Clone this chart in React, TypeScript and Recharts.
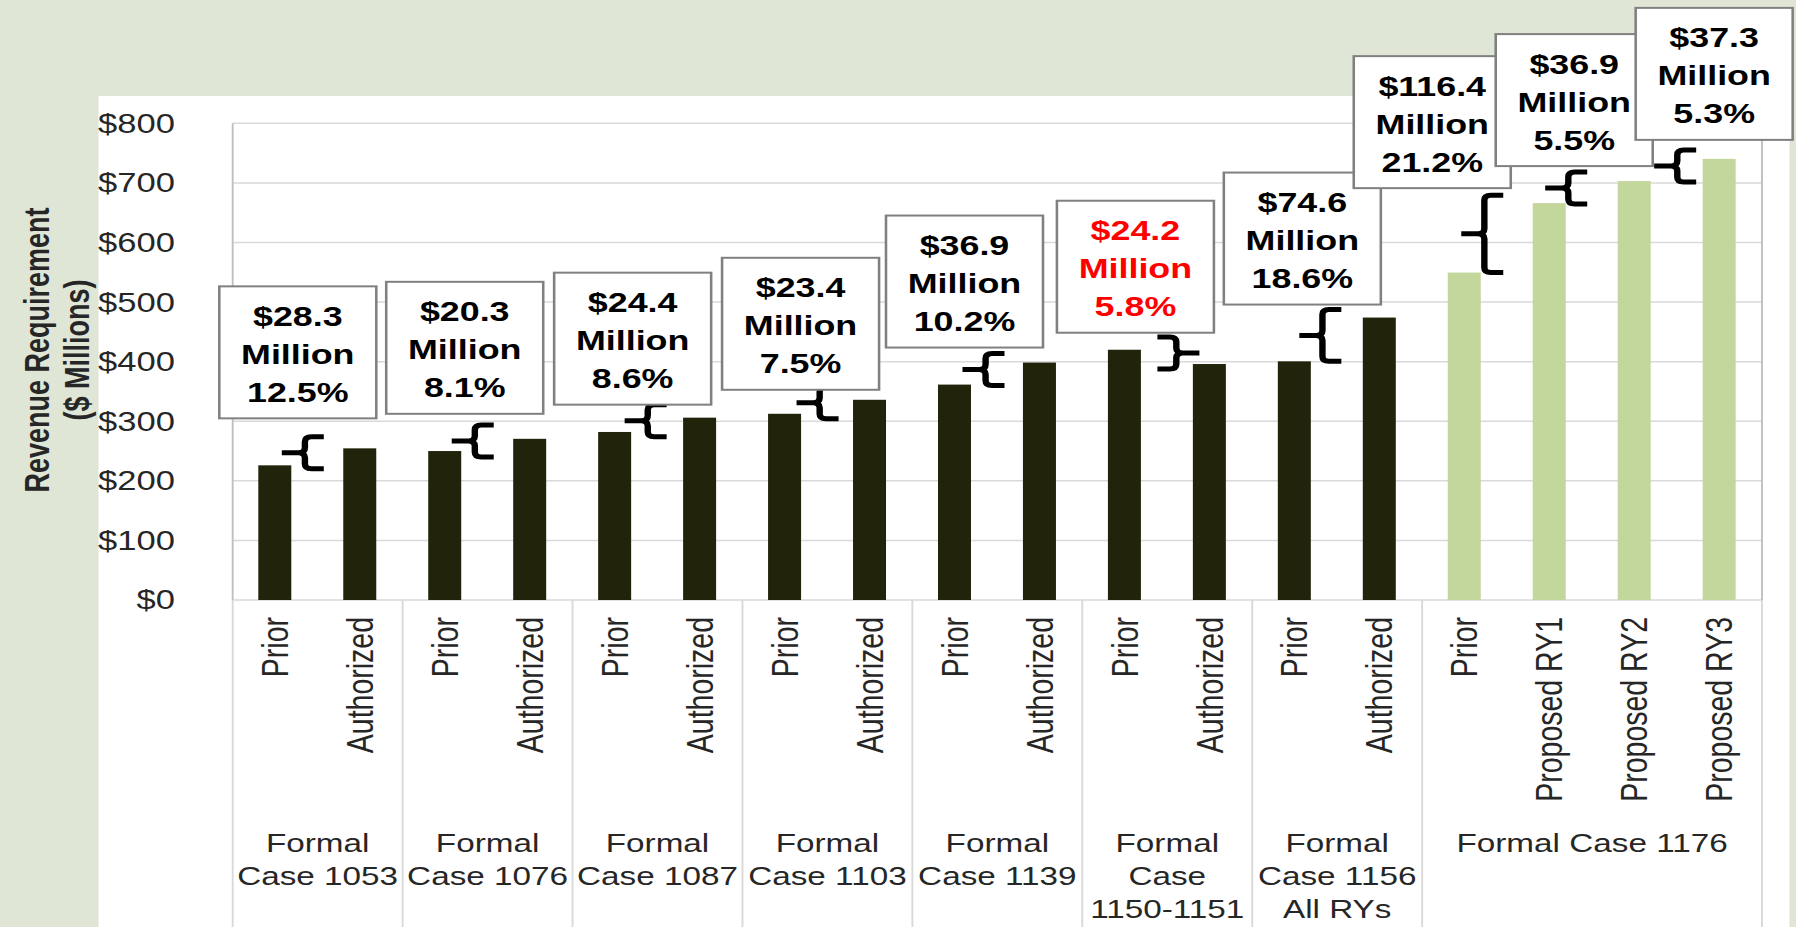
import React from 'react';
import { BarChart, Bar, XAxis, YAxis, CartesianGrid } from 'recharts';

// rate cases along the bottom ("|" = line break) and how many bars each one holds
const cases = [
  'Formal|Case 1053',
  'Formal|Case 1076',
  'Formal|Case 1087',
  'Formal|Case 1103',
  'Formal|Case 1139',
  'Formal|Case|1150-1151',
  'Formal|Case 1156|All RYs',
  'Formal Case 1176',
];
const caseSizes = [2, 2, 2, 2, 2, 2, 2, 4];

const categories = [
  'Prior', 'Authorized',
  'Prior', 'Authorized',
  'Prior', 'Authorized',
  'Prior', 'Authorized',
  'Prior', 'Authorized',
  'Prior', 'Authorized',
  'Prior', 'Authorized',
  'Prior', 'Proposed RY1', 'Proposed RY2', 'Proposed RY3',
];

// revenue requirement, $ millions
const revenue = [226, 254.5, 250, 270.5, 282, 306, 312.5, 336, 361.5, 398.5, 420, 396, 400.5, 474, 549.5, 666, 703, 740.3];

const yTicks = [0, 100, 200, 300, 400, 500, 600, 700, 800];

// change callouts: from bar -> to bar
const changeFrom = [0, 2, 4, 6, 8, 10, 12, 14, 15, 16];
const changeTo = [1, 3, 5, 7, 9, 11, 13, 15, 16, 17];
const changeAmount = ['$28.3', '$20.3', '$24.4', '$23.4', '$36.9', '$24.2', '$74.6', '$116.4', '$36.9', '$37.3'];
const changePct = ['12.5%', '8.1%', '8.6%', '7.5%', '10.2%', '5.8%', '18.6%', '21.2%', '5.5%', '5.3%'];

// hand placement of the callouts (screen px, relative to the "from" bar centre)
const boxShift = [23, 20, 18, 16, 10, 11, 8, -32, 25, 80];
const boxGap = [30, 25, 13, 10, 15, 17, 13, 15, 15, 19];
const braceShift = [7, 7, 10, 12, 8, 33, 5, -3, -4, 20];

// the source picture is stretched sideways, so the whole chart gets scaleX
const SX = 1.28;
const W = 1796 / SX;
const H = 927;
const PLOT_TOP = 123.3;
const PLOT_BOTTOM = 600;
const Y_AXIS_W = 232.7 / SX;
const RIGHT_GAP = (1796 - 1762) / SX;
const PLOT_W = W - Y_AXIS_W - RIGHT_GAP;
const BAND = PLOT_W / categories.length;

const DARK = '#21240b';
const GREEN = '#c3d69b';
const GRID = '#d9d9d9';
const TEXT = '#262626';
const FONT = '"Liberation Sans", Arial, sans-serif';

const caseOf: number[] = [];
const caseStart: number[] = [];
caseSizes.forEach((n, c) => {
  caseStart.push(caseOf.length);
  for (let k = 0; k < n; k++) caseOf.push(c);
});

const data = categories.map((name, i) => ({ id: i, name, revenue: revenue[i] }));

const bracePath = (x0: number, y1: number, y2: number, flip: boolean) => {
  const bw = 42 / SX;
  const ym = (y1 + y2) / 2;
  const r = Math.min(5, (y2 - y1) / 4);
  if (!flip) {
    const xs = x0 + bw * 0.55;
    const xe = x0 + bw;
    return `M ${xe} ${y1} H ${xs + r} Q ${xs} ${y1} ${xs} ${y1 + r} V ${ym - r} Q ${xs} ${ym} ${xs - r} ${ym} H ${x0}` +
      ` M ${xs - r} ${ym} Q ${xs} ${ym} ${xs} ${ym + r} V ${y2 - r} Q ${xs} ${y2} ${xs + r} ${y2} H ${xe}`;
  }
  const xs = x0 + bw * 0.45;
  const xe = x0 + bw;
  return `M ${x0} ${y1} H ${xs - r} Q ${xs} ${y1} ${xs} ${y1 + r} V ${ym - r} Q ${xs} ${ym} ${xs + r} ${ym} H ${xe}` +
    ` M ${xs + r} ${ym} Q ${xs} ${ym} ${xs} ${ym + r} V ${y2 - r} Q ${xs} ${y2} ${xs - r} ${y2} H ${x0}`;
};

const BarWithNote = (props: any) => {
  const { x, y, width, height, payload } = props;
  const i = payload.id;
  const fill = caseOf[i] === cases.length - 1 ? GREEN : DARK;
  const rect = <rect x={x} y={y} width={width} height={height} fill={fill} />;
  const n = changeTo.indexOf(i);
  if (n < 0) return rect;

  const from = changeFrom[n];
  const base = y + height;
  const k = height / payload.revenue;
  const fromTop = base - revenue[from] * k;
  const fromCx = x + width / 2 - (i - from) * BAND;
  const hi = Math.min(fromTop, y);
  const lo = Math.max(fromTop, y);
  const drop = revenue[i] < revenue[from];

  const mid = (hi + lo) / 2 - 4;
  const bh = Math.max(lo - hi + 8, 32);

  const boxW = 157 / SX;
  const boxH = 132;
  const cx = fromCx + boxShift[n] / SX;
  const bottom = hi - boxGap[n];
  const top = bottom - boxH;
  const lines = [changeAmount[n], 'Million', changePct[n]];

  return (
    <g>
      {rect}
      <path
        d={bracePath(fromCx + braceShift[n] / SX, mid - bh / 2, mid + bh / 2, drop)}
        fill="none"
        stroke="#000"
        strokeWidth={5}
      />
      <rect x={cx - boxW / 2} y={top} width={boxW} height={boxH} fill="#fff" stroke="#808080" strokeWidth={2} />
      {lines.map((t, j) => (
        <text
          key={j}
          x={cx}
          y={top + 39.5 + j * 38}
          textAnchor="middle"
          fontSize={28}
          fontWeight="bold"
          fill={drop ? '#ff0000' : '#000'}
        >
          {t}
        </text>
      ))}
    </g>
  );
};

const ValueTick = ({ y, payload }: any) => (
  <text x={175 / SX} y={y} dy="0.35em" textAnchor="end" fontSize={27} fill={TEXT}>
    {`$${payload.value}`}
  </text>
);

const CategoryTick = (props: any) => {
  const { x, payload } = props;
  const i = typeof props.index === 'number' ? props.index : payload.index;
  const c = caseOf[i];
  const first = caseStart[c] === i;
  const last = i === categories.length - 1;
  const left = x - BAND / 2;
  const groupCx = left + (caseSizes[c] * BAND) / 2;
  return (
    <g>
      <text
        transform={`translate(${x},617) rotate(-90)`}
        textAnchor="end"
        dy="0.35em"
        fontSize={28.5}
        fill={TEXT}
      >
        {payload.value}
      </text>
      {first && <line x1={left} x2={left} y1={PLOT_BOTTOM} y2={H} stroke={GRID} strokeWidth={1.5} />}
      {last && <line x1={x + BAND / 2} x2={x + BAND / 2} y1={PLOT_BOTTOM} y2={H} stroke={GRID} strokeWidth={1.5} />}
      {first &&
        cases[c].split('|').map((t, j) => (
          <text key={j} x={groupCx} y={851.7 + j * 33} textAnchor="middle" fontSize={26} fill={TEXT}>
            {t}
          </text>
        ))}
    </g>
  );
};

const App: React.FC = () => {
  return (
    <div style={{ position: 'absolute', left: 0, top: 0, width: 1796, height: 927, overflow: 'hidden', background: '#dfe6d6', fontFamily: FONT }}>
      <div style={{ position: 'absolute', left: 0, top: 0, width: W, height: H, transform: `scaleX(${SX})`, transformOrigin: '0 0' }}>
        <div style={{ position: 'absolute', left: 98 / SX, top: 96, width: (1789 - 98) / SX, height: H - 96, background: '#fff' }} />
        <svg style={{ position: 'absolute', left: 0, top: 0 }} width={Y_AXIS_W - 50} height={H}>
          <g transform="translate(0,350) rotate(-90)" fontSize={27} fontWeight="bold" fill={TEXT} textAnchor="middle">
            <text x={0} y={37 / SX} dy="0.35em">Revenue Requirement</text>
            <text x={0} y={77 / SX} dy="0.35em">($ Millions)</text>
          </g>
        </svg>
        <div style={{ position: 'absolute', left: 0, top: 0 }}>
          <BarChart width={W} height={H} data={data} margin={{ top: PLOT_TOP, right: RIGHT_GAP, left: 0, bottom: 0 }}>
            <CartesianGrid vertical={false} stroke={GRID} strokeWidth={1.5} />
            <CartesianGrid
              horizontal={false}
              stroke="#c0c0c0"
              strokeWidth={1.5}
              verticalCoordinatesGenerator={({ offset }: any) => [offset.left, offset.left + offset.width]}
            />
            <XAxis
              dataKey="name"
              height={H - PLOT_BOTTOM}
              interval={0}
              tickLine={false}
              axisLine={false}
              tick={<CategoryTick />}
            />
            <YAxis
              width={Y_AXIS_W}
              domain={[0, 800]}
              ticks={yTicks}
              interval={0}
              tickLine={false}
              axisLine={false}
              tick={<ValueTick />}
            />
            <Bar dataKey="revenue" barSize={33 / SX} shape={<BarWithNote />} isAnimationActive={false} />
          </BarChart>
        </div>
      </div>
    </div>
  );
};

export default App;
